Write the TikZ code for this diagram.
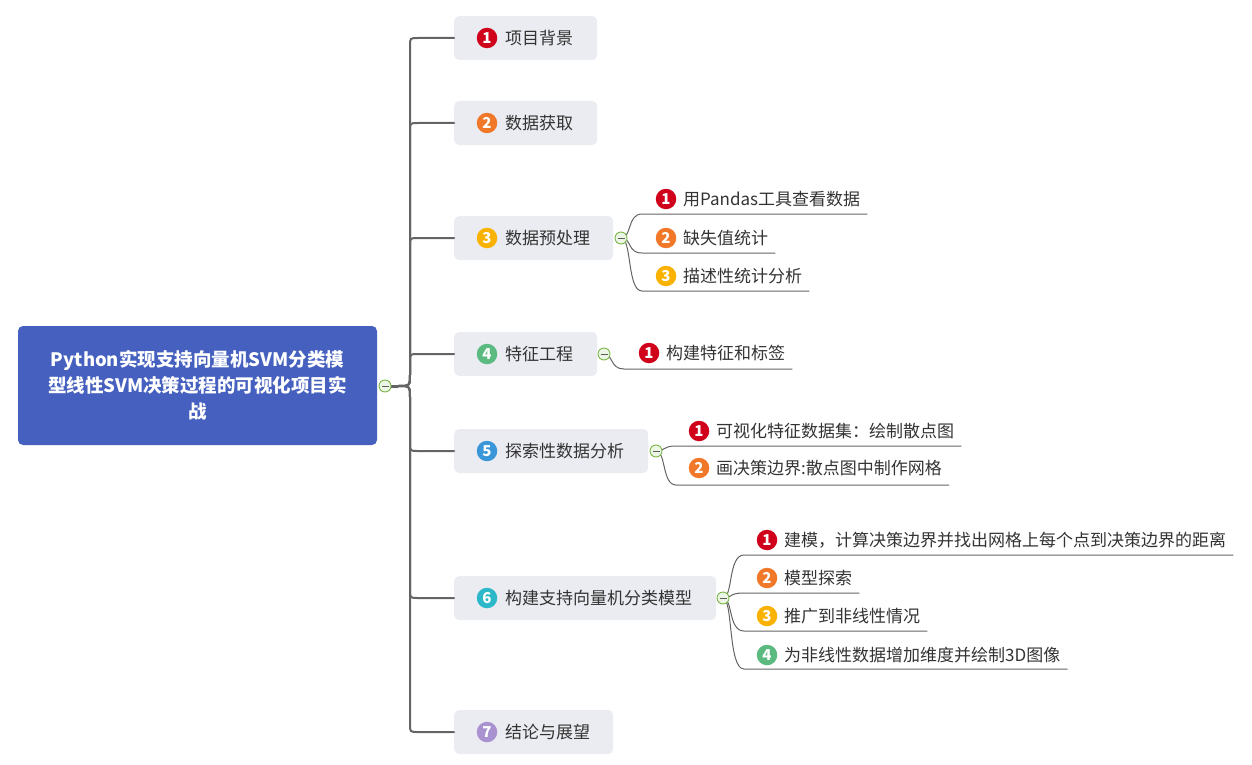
\documentclass[tikz,border=0pt]{standalone}
\usepackage{fontspec}
\setmainfont{Noto Sans CJK SC}
\definecolor{rootblue}{RGB}{69,96,190}
\definecolor{boxgray}{RGB}{235,236,242}
\definecolor{txt}{RGB}{51,51,51}
\definecolor{lnk}{RGB}{100,100,100}
\definecolor{cA}{RGB}{208,2,27}
\definecolor{cB}{RGB}{240,120,40}
\definecolor{cC}{RGB}{250,178,0}
\definecolor{cD}{RGB}{90,186,128}
\definecolor{cE}{RGB}{58,150,216}
\definecolor{cF}{RGB}{44,184,200}
\definecolor{cG}{RGB}{168,146,208}
\definecolor{tgl}{RGB}{122,182,72}
\definecolor{tglfill}{RGB}{236,246,228}
\begin{document}
\begin{tikzpicture}[x=1pt,y=-1pt,
  rootbox/.style={fill=rootblue,rounded corners=5pt,text=white,align=center,
    font=\fontsize{18.5}{26}\selectfont\bfseries,inner sep=0pt},
  lonebox/.style={fill=boxgray,rounded corners=5pt,minimum height=44pt,anchor=west,inner sep=0pt},
  badge/.style={circle,fill=#1,text=white,minimum size=20.5pt,inner sep=0pt,
    font=\fontsize{15}{15}\selectfont\bfseries},
  ltext/.style={text=txt,anchor=west,inner xsep=0pt,font=\fontsize{17}{17}\selectfont},
  ctext/.style={text=txt,anchor=west,inner xsep=7pt,font=\fontsize{17}{17}\selectfont},
  trunk/.style={draw=lnk,line width=2pt,line cap=round},
  conn/.style={draw=lnk,line width=1pt},
  tog/.style={circle,draw=tgl,fill=tglfill,line width=0.9pt,minimum size=12pt,inner sep=0pt,
    path picture={\draw[line width=1pt,txt!80] ([xshift=-3.5pt]path picture bounding box.center) -- ([xshift=3.5pt]path picture bounding box.center);}}
]
\useasboundingbox (0,0) rectangle (1252,765);
% root
\node[rootbox,minimum width=359pt,minimum height=119pt] (root) at (197.5,385.5)
  {Python实现支持向量机SVM分类模\\型线性SVM决策过程的可视化项目实\\战};
\coordinate (rt) at (385,386);
% level-1 boxes
\node[lonebox,minimum width=143pt] (b1) at (454,38) {};
\node[lonebox,minimum width=143pt] (b2) at (454,123) {};
\node[lonebox,minimum width=159pt] (b3) at (454,238) {};
\node[lonebox,minimum width=143pt] (b4) at (454,354) {};
\node[lonebox,minimum width=194pt] (b5) at (454,451) {};
\node[lonebox,minimum width=262pt] (b6) at (454,598) {};
\node[lonebox,minimum width=159pt] (b7) at (454,732) {};
% trunk
\draw[line width=3pt,lnk] (rt) -- (398,386);
\foreach \b/\y in {b1/38,b2/123,b3/238,b4/354}{
  \draw[trunk] (398,386) .. controls (410,386) .. (410,374) -- (410,\y+8) .. controls (410,\y) .. (418,\y) -- (\b.west);
}
\foreach \b/\y in {b5/451,b6/598,b7/732}{
  \draw[trunk] (398,386) .. controls (410,386) .. (410,398) -- (410,\y-8) .. controls (410,\y) .. (418,\y) -- (\b.west);
}
\node[tog] (trt) at (rt) {};
% level-1 contents
\node[badge=cA] (n1) at (487,38) {1}; \node[ltext] (l1) at (505,38) {项目背景};
\node[badge=cB] (n2) at (487,123) {2}; \node[ltext] (l2) at (505,123) {数据获取};
\node[badge=cC] (n3) at (487,238) {3}; \node[ltext] (l3) at (505,238) {数据预处理};
\node[badge=cD] (n4) at (487,354) {4}; \node[ltext] (l4) at (505,354) {特征工程};
\node[badge=cE] (n5) at (487,451) {5}; \node[ltext] (l5) at (505,451) {探索性数据分析};
\node[badge=cF] (n6) at (487,598) {6}; \node[ltext] (l6) at (505,598) {构建支持向量机分类模型};
\node[badge=cG] (n7) at (487,732) {7}; \node[ltext] (l7) at (505,732) {结论与展望};
% toggles
\coordinate (t3) at (621,238);
\coordinate (t4) at (604,354);
\coordinate (t5) at (656,451);
\coordinate (t6) at (723,598);
% ---- children of 3
\node[badge=cA] (m31) at (666,199) {1}; \node[ctext] (c31) at (676,199) {用Pandas工具查看数据};
\node[badge=cB] (m32) at (666,238) {2}; \node[ctext] (c32) at (676,238) {缺失值统计};
\node[badge=cC] (m33) at (666,276) {3}; \node[ctext] (c33) at (676,276) {描述性统计分析};
\foreach \c/\y in {c31/214,c32/253,c33/291}{
  \coordinate (s) at (642,\y);
  \draw[conn] (t3) .. controls (632,238) and (627,\y) .. (s) -- (s -| \c.east);
}
% ---- children of 4
\node[badge=cA] (m41) at (649,353) {1}; \node[ctext] (c41) at (659,353) {构建特征和标签};
\coordinate (s41) at (624,369);
\draw[conn] (t4) .. controls (613,354) and (610,369) .. (s41) -- (s41 -| c41.east);
% ---- children of 5
\node[badge=cA] (m51) at (699,431) {1}; \node[ctext] (c51) at (709,431) {可视化特征数据集：绘制散点图};
\node[badge=cB] (m52) at (699,468) {2}; \node[ctext] (c52) at (709,468) {画决策边界:散点图中制作网格};
\foreach \c/\y in {c51/446,c52/485}{
  \coordinate (s) at (676,\y);
  \draw[conn] (t5) .. controls (666,451) and (662,\y) .. (s) -- (s -| \c.east);
}
% ---- children of 6
\node[badge=cA] (m61) at (767,540) {1}; \node[ctext] (c61) at (777,540) {建模，计算决策边界并找出网格上每个点到决策边界的距离};
\node[badge=cB] (m62) at (767,578) {2}; \node[ctext] (c62) at (777,578) {模型探索};
\node[badge=cC] (m63) at (767,616) {3}; \node[ctext] (c63) at (777,616) {推广到非线性情况};
\node[badge=cD] (m64) at (767,655) {4}; \node[ctext] (c64) at (777,655) {为非线性数据增加维度并绘制3D图像};
\foreach \c/\y in {c61/555,c62/593,c63/631,c64/669}{
  \coordinate (s) at (744,\y);
  \draw[conn] (t6) .. controls (733,598) and (728,\y) .. (s) -- (s -| \c.east);
}
\node[tog] (tg3) at (t3) {};
\node[tog] (tg4) at (t4) {};
\node[tog] (tg5) at (t5) {};
\node[tog] (tg6) at (t6) {};
\end{tikzpicture}
\end{document}
